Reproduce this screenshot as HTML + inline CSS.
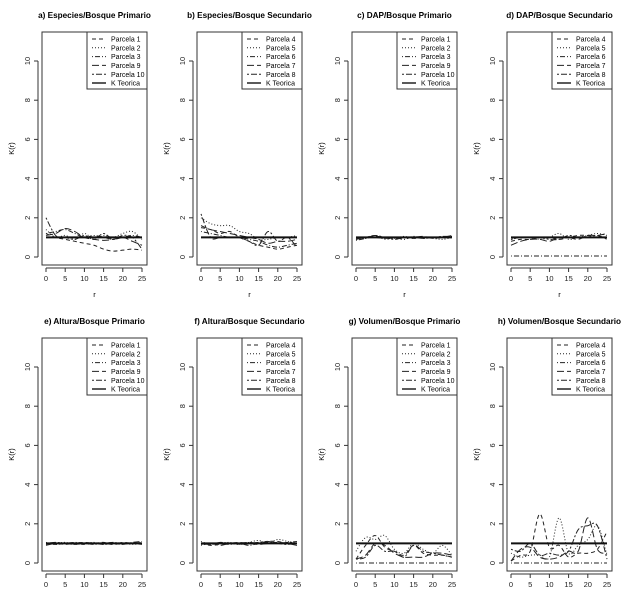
<!DOCTYPE html>
<html><head><meta charset="utf-8"><style>
body{margin:0;background:#fff;}
svg{display:block;font-family:"Liberation Sans",sans-serif;}
</style></head><body>
<svg id="c" width="622" height="600" viewBox="0 0 622 600"></svg>
<script>
const rValues=[0,2.5,5,7.5,10,12.5,15,17.5,20,22.5,25];
const yTicks=[0,2,4,6,8,10];
const xTicks=[0,5,10,15,20,25];
const titles=["a) Especies/Bosque Primario","b) Especies/Bosque Secundario","c) DAP/Bosque Primario","d) DAP/Bosque Secundario","e) Altura/Bosque Primario","f) Altura/Bosque Secundario","g) Volumen/Bosque Primario","h) Volumen/Bosque Secundario"];
const legendPrim=["Parcela 1","Parcela 2","Parcela 3","Parcela 9","Parcela 10","K Teorica"];
const legendSec=["Parcela 4","Parcela 5","Parcela 6","Parcela 7","Parcela 8","K Teorica"];
const kTeorica=[1,1,1,1,1,1,1,1,1,1,1];
const seriesA=[[1.2,1.0,0.9,0.8,0.7,0.6,0.4,0.3,0.35,0.4,0.35],[1.4,1.0,1.1,0.9,1.2,0.9,1.1,1.0,1.2,1.3,0.9],[1.2,1.3,1.4,1.2,1.0,1.1,1.0,0.9,1.0,1.1,1.0],[1.1,1.2,1.45,1.3,1.0,0.9,0.85,0.9,1.0,0.8,0.6],[2.0,1.1,1.0,0.9,1.1,0.9,1.2,0.9,1.1,1.0,0.4]];
const seriesB=[[1.5,1.4,1.2,1.3,1.0,0.8,0.6,0.5,0.4,0.5,0.6],[2.0,1.7,1.6,1.6,1.3,1.2,0.9,0.9,1.0,1.0,1.1],[1.3,1.2,1.1,1.0,1.0,0.9,0.8,0.6,0.5,0.6,0.7],[1.6,1.4,1.3,1.2,1.1,1.0,0.9,0.7,0.8,0.8,0.9],[2.2,1.0,1.0,1.0,1.0,0.8,0.6,1.3,0.8,1.0,0.5]];
const seriesC=[[0.9,1.0,1.0,0.95,1.0,1.0,0.95,1.0,1.0,1.0,1.05],[1.0,0.95,1.1,1.0,0.95,1.05,0.95,1.0,0.95,0.9,1.0],[0.85,0.95,1.1,0.9,1.0,0.9,1.05,0.95,1.0,1.0,1.1],[0.95,1.0,1.05,1.0,0.95,1.0,1.0,1.05,0.95,1.0,1.0],[0.9,1.0,1.1,1.0,0.9,1.0,1.0,0.95,1.0,1.05,1.05]];
const seriesD=[[0.8,0.9,0.9,1.0,1.0,0.9,1.0,1.1,1.1,1.0,1.0],[0.9,1.0,1.0,0.9,1.0,1.2,0.9,1.0,1.1,1.2,1.1],[0.05,0.05,0.05,0.05,0.05,0.05,0.05,0.05,0.05,0.05,0.05],[0.6,0.8,0.9,0.9,0.8,1.0,1.0,0.9,1.1,1.1,1.2],[0.9,1.0,1.0,1.0,0.9,0.9,1.1,1.0,1.0,1.1,0.9]];
const seriesE=[[1.0,0.95,1.0,1.0,0.95,1.0,1.05,0.95,1.0,1.0,1.05],[0.95,1.0,1.05,0.95,1.0,1.05,0.95,1.0,1.0,0.95,1.0],[1.05,0.95,1.0,1.05,1.0,0.95,1.0,1.05,1.0,1.0,0.95],[0.9,1.0,0.95,1.0,1.05,1.0,1.0,0.95,1.05,1.0,1.0],[1.0,1.05,1.0,0.95,1.0,1.0,0.95,1.0,0.95,1.05,1.1]];
const seriesF=[[1.0,0.9,0.95,1.0,1.0,1.05,1.0,1.1,1.1,1.0,1.05],[1.1,0.95,1.0,1.05,0.95,1.05,1.15,1.0,1.2,1.1,1.0],[0.9,1.0,1.0,0.95,1.0,0.9,1.0,1.05,1.0,1.05,1.1],[0.95,1.0,0.9,1.0,1.05,1.0,0.95,1.0,1.05,1.0,0.9],[1.0,0.95,1.05,1.0,0.95,1.0,1.05,1.1,1.0,0.95,1.0]];
const seriesG=[[0.2,0.9,1.4,0.8,0.6,0.4,0.9,0.5,0.4,0.4,0.3],[0.6,1.3,1.2,1.4,0.7,0.5,1.0,0.7,0.5,0.9,0.4],[0,0,0,0,0,0,0,0,0,0,0],[0.2,0.4,1.0,0.9,0.5,0.3,0.3,0.3,0.5,0.5,0.4],[0.2,0.3,0.9,0.6,0.6,0.3,0.9,0.6,0.5,0.4,0.3]];
const seriesH=[[0.1,0.4,0.6,2.5,0.8,0.9,0.3,0.5,0.5,0.7,1.6],[0.5,0.3,0.4,0.4,0.3,2.3,0.5,0.9,1.2,1.9,0.4],[0,0,0,0,0,0,0,0,0,0,0],[0.1,0.7,0.8,0.3,0.2,0.3,0.6,0.6,2.3,0.7,0.5],[0.7,0.6,1.0,0.4,0.5,0.4,0.6,1.7,1.9,1.9,0.2]];
const allSeries=[seriesA,seriesB,seriesC,seriesD,seriesE,seriesF,seriesG,seriesH];
const dashes=["4,3","1,2","1,2,5,2","7,3","2,2,6,2"];
const NS="http://www.w3.org/2000/svg";
const svg=document.getElementById('c');
function mk(t,a,p){const e=document.createElementNS(NS,t);for(const k in a)e.setAttribute(k,a[k]);(p||svg).appendChild(e);return e;}
function smooth(pts){let d="M"+pts[0][0]+","+pts[0][1];for(let i=0;i<pts.length-1;i++){const p0=pts[Math.max(i-1,0)],p1=pts[i],p2=pts[i+1],p3=pts[Math.min(i+2,pts.length-1)];d+=" C"+(p1[0]+(p2[0]-p0[0])/6)+","+(p1[1]+(p2[1]-p0[1])/6)+" "+(p2[0]-(p3[0]-p1[0])/6)+","+(p2[1]-(p3[1]-p1[1])/6)+" "+p2[0]+","+p2[1];}return d;}
for(let p=0;p<8;p++){
 const col=p%4,row=Math.floor(p/4);
 const bl=42+col*155,br=bl+105,bt=32+row*306,bb=bt+233;
 const x0=bl+4,x1=bl+100,y0=bb-8;
 const X=v=>x0+(x1-x0)*v/25, Y=v=>y0-v*19.6;
 const g=mk('g',{});
 
 
 const t=mk('text',{x:(bl+br)/2,y:bt-14,'text-anchor':'middle','font-size':'8.2','font-weight':'bold'},g);t.textContent=titles[p];
 
 mk('rect',{x:bl,y:bt,width:br-bl,height:bb-bt,fill:'none',stroke:'#333','stroke-width':1},g);
 mk('line',{x1:bl-4,x2:bl-4,y1:Y(0),y2:Y(10),stroke:'#333'},g);
 yTicks.forEach(v=>{mk('line',{x1:bl-8,x2:bl-4,y1:Y(v),y2:Y(v),stroke:'#333'},g);
  const tx=mk('text',{x:bl-12,y:Y(v),'font-size':'7.5','text-anchor':'middle',transform:`rotate(-90 ${bl-12} ${Y(v)})`,fill:'#222'},g);tx.textContent=v;});
 const yl=mk('text',{x:bl-28,y:(bt+bb)/2,'font-size':'7.5','text-anchor':'middle',transform:`rotate(-90 ${bl-28} ${(bt+bb)/2})`},g);yl.textContent="K(r)";
 
 mk('line',{x1:X(0),x2:X(25),y1:bb+3,y2:bb+3,stroke:'#333'},g);
 xTicks.forEach(v=>{mk('line',{x1:X(v),x2:X(v),y1:bb+3,y2:bb+7,stroke:'#333'},g);
  const tx=mk('text',{x:X(v),y:bb+16,'font-size':'7.5','text-anchor':'middle',fill:'#222'},g);tx.textContent=v;});
 if(row===0){const xl=mk('text',{x:(bl+br)/2,y:bb+32,'font-size':'7.5','text-anchor':'middle'},g);xl.textContent="r";
  }
 allSeries[p].forEach((s,i)=>{const path=mk('path',{d:smooth(s.map((v,j)=>[X(rValues[j]),Y(v)])),fill:'none',stroke:'#222','stroke-width':1,'stroke-dasharray':dashes[i]},g);
  });
 const kp=mk('path',{d:smooth(kTeorica.map((v,j)=>[X(rValues[j]),Y(v)])),fill:'none',stroke:'#111','stroke-width':2},g);
 
 const lg=mk('g',{},g);
 
 const lx=bl+45;
 mk('rect',{x:lx,y:bt,width:br-lx,height:57,fill:'#fff',stroke:'#333'},lg);
 const labs=(col%2===0)?legendPrim:legendSec;
 labs.forEach((L,i)=>{const yy=bt+7+i*8.8;
  mk('line',{x1:lx+5,x2:lx+19,y1:yy,y2:yy,stroke:'#222','stroke-width':i===5?1.5:1,'stroke-dasharray':i<5?dashes[i]:'none'},lg);
  const tx=mk('text',{x:lx+24,y:yy+2.6,'font-size':'7'},lg);tx.textContent=L;
  });
}
</script>
</body></html>
